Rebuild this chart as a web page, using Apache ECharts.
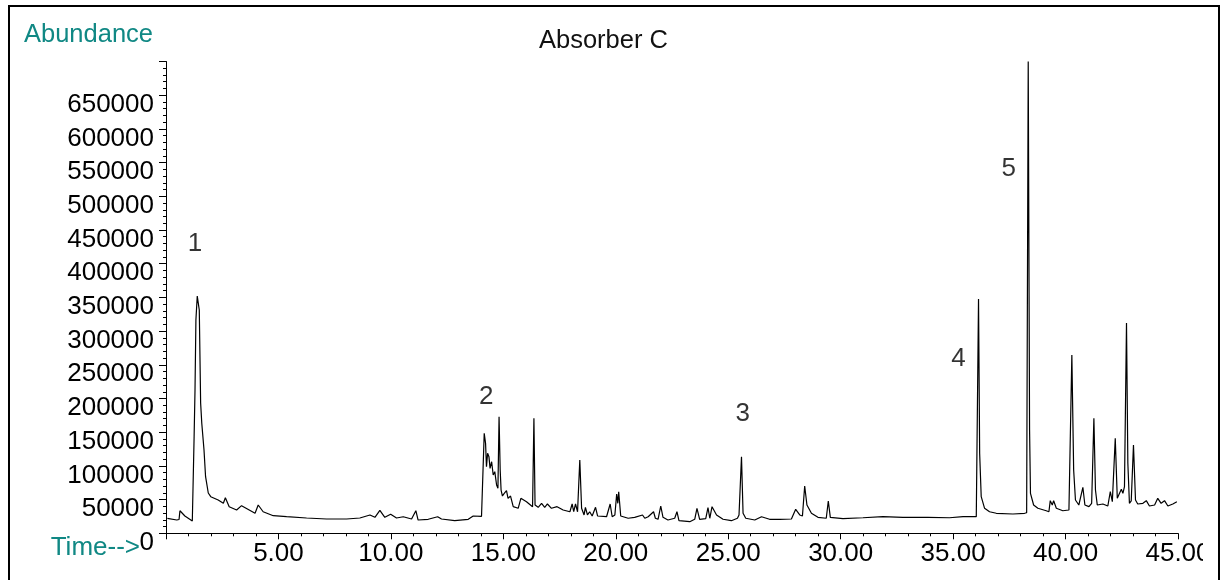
<!DOCTYPE html>
<html>
<head>
<meta charset="utf-8">
<script src="https://cdn.jsdelivr.net/npm/echarts@6/dist/echarts.min.js"></script>
<style>
html,body{margin:0;padding:0;background:#fff;}
#chart{width:1224px;height:580px;}
</style>
</head>
<body>
<div id="chart"></div>
<script>
// Retention time (min)
const times = [
  0.06, 0.48, 0.58, 0.62, 0.84, 1.17, 1.19, 1.25, 1.29, 1.33, 1.39, 1.48, 1.54, 1.59, 1.69, 1.76, 1.88, 1.99,
  2.32, 2.55, 2.64, 2.81, 3.14, 3.36, 3.96, 4.10, 4.32, 4.77, 5.36, 6.25, 6.28, 7.14, 8.03, 8.62, 9.07, 9.29,
  9.51, 9.73, 9.99, 10.25, 10.55, 10.92, 11.11, 11.21,
  11.66, 12.08, 12.25, 12.84, 13.44, 13.66, 14.03, 14.10, 14.15, 14.21, 14.25, 14.30, 14.36, 14.41, 14.48,
  14.55, 14.62, 14.70, 14.76, 14.81, 14.86, 14.90, 14.96, 15.04, 15.14, 15.21, 15.32, 15.44, 15.66, 15.78,
  16.03, 16.30, 16.36, 16.41, 16.55, 16.70, 16.84, 16.96, 17.14, 17.39, 17.66, 17.96, 18.06, 18.13, 18.21,
  18.30, 18.40, 18.48, 18.59, 18.65, 18.74, 18.84, 18.95, 19.10, 19.19, 19.59, 19.75, 19.84, 19.96, 20.04,
  20.09, 20.13, 20.22, 20.55, 20.84, 21.19, 21.29, 21.44, 21.68, 21.76, 21.88, 22.00, 22.10, 22.32,
  22.62, 22.72, 22.81, 23.29, 23.51, 23.61, 23.73, 24.00, 24.10, 24.18, 24.28, 24.48, 24.77, 25.14, 25.41,
  25.48, 25.59, 25.66, 25.78, 26.18, 26.48, 26.84, 27.29, 27.81, 28.00, 28.18, 28.30, 28.40, 28.50, 28.70,
  28.99, 29.36, 29.45, 29.54, 30.10, 30.99, 31.88, 32.77, 33.88,
  34.84, 35.44, 36.03, 36.07, 36.13, 36.18, 36.25, 36.40, 36.62, 36.92, 37.66, 38.18, 38.27, 38.34, 38.40,
  38.44, 38.58, 38.77, 39.14, 39.26, 39.32, 39.41, 39.47, 39.59, 39.88, 40.15, 40.21, 40.28, 40.36, 40.44,
  40.59, 40.77, 40.86, 41.04, 41.16, 41.26, 41.33, 41.41, 41.66, 41.88, 41.99, 42.08, 42.21, 42.30, 42.40,
  42.48, 42.55, 42.62, 42.71, 42.77, 42.84, 42.92, 43.02, 43.11, 43.21, 43.44, 43.59, 43.73, 43.96, 44.10,
  44.25, 44.40, 44.55, 44.77, 44.95
];
// Abundance
const abundance = [
  22250, 19700, 20500, 33500, 25700, 18300, 19700, 143300, 212600, 316500, 352000, 331300, 193300, 163600, 123600, 84000, 59800, 54300,
  49400, 44500, 52800, 39500, 34600, 41000, 29700, 42000, 32000, 26100, 24600, 22700, 24000, 21200, 21200, 22700, 27200, 23700,
  34100, 23700, 28200, 22700, 24600, 21200, 33500, 19700,
  20800, 24600, 21200, 18700, 20800, 25700, 25200, 27200, 148400, 133500, 98800, 118700, 113700, 96400, 106200,
  86500, 91400, 71700, 66800, 173000, 93900, 64200, 55300, 59300, 63200, 51900, 55300, 39500, 37100, 51900,
  46900, 39500, 170600, 42000, 38600, 44500, 38600, 43500, 37100, 39500, 34600, 32000, 43500, 32000, 43500,
  32000, 108800, 37100, 27200, 38600, 27200, 32000, 25700, 38600, 25700, 24600, 43500, 24600, 27200, 58300,
  44500, 61700, 25700, 22300, 23700, 27200, 22300, 24600, 32000, 22300, 20800, 40500, 23700, 19700,
  22300, 32000, 18700, 17200, 20800, 37100, 20800, 21700, 38000, 22300, 39500, 27200, 20800, 18700, 22300,
  27200, 113700, 29700, 22300, 19700, 24600, 20800, 20800, 21200, 35600, 27200, 25700, 70200, 42000, 29700,
  23700, 22300, 47900, 23700, 21700, 23100, 24600, 23700, 23700,
  23100, 24600, 24600, 25500, 347600, 118700, 54300, 37100, 32000, 29700, 28600, 29700, 30500, 700000, 153300,
  59300, 42000, 37100, 33500, 32000, 48400, 42000, 48400, 37100, 33500, 34600, 36000, 264500, 93900, 49400,
  42000, 68300, 42000, 39500, 44500, 170600, 64200, 42000, 43500, 40500, 61700, 46900, 141000, 51900, 59300,
  65300, 59300, 69100, 312000, 103900, 44500, 48000, 131000, 49400, 43500, 44500, 48400, 40500, 42000, 51900,
  44500, 48400, 40500, 43500, 46900
];
// Peak annotations
const peakLabels = ['1', '2', '3', '4', '5'];
const peakLabelTimes = [1.29, 14.24, 25.64, 35.24, 37.47];
const peakLabelValues = [429200, 202200, 177000, 259400, 541300];

const xMin = 0, xMax = 45, xInterval = 5;
const yMin = 0, yMax = 700000, yInterval = 50000;

const FONT = '"Liberation Sans", Arial, sans-serif';
const TEAL = '#108884';

const chart = echarts.init(document.getElementById('chart'), null, {renderer: 'canvas'});
const seriesData = times.map((t, i) => [t, abundance[i]]);
const labelData = peakLabels.map((n, i) => ({value: [peakLabelTimes[i], peakLabelValues[i]], name: n}));

chart.setOption({
  animation: false,
  backgroundColor: '#fff',
  title: {
    text: 'Absorber C',
    left: 534, top: 23,
    textStyle: {fontFamily: FONT, fontSize: 25.5, fontWeight: 'normal', color: '#111'}
  },
  grid: {left: 166, right: 46, top: 61.5, bottom: 46.7},
  xAxis: {
    type: 'value', min: xMin, max: xMax, interval: xInterval,
    axisLine: {show: true, lineStyle: {color: '#000', width: 1}},
    axisTick: {show: true, length: 6, lineStyle: {color: '#000', width: 1}},
    minorTick: {show: true, splitNumber: 5, length: 3, lineStyle: {color: '#000', width: 1}},
    splitLine: {show: false},
    axisLabel: {
      margin: 8, color: '#000', fontFamily: FONT, fontSize: 26,
      formatter: v => v === 0 ? '' : v.toFixed(2)
    }
  },
  yAxis: {
    type: 'value', min: yMin, max: yMax, interval: yInterval,
    axisLine: {show: true, lineStyle: {color: '#000', width: 1}},
    axisTick: {show: true, length: 7, lineStyle: {color: '#000', width: 1}},
    minorTick: {show: true, splitNumber: 5, length: 3, lineStyle: {color: '#000', width: 1}},
    splitLine: {show: false},
    axisLabel: {
      margin: 12, color: '#000', fontFamily: FONT, fontSize: 26,
      verticalAlign: 'top', lineHeight: 19,
      formatter: v => v === yMax ? '' : String(v)
    }
  },
  series: [
    {
      type: 'line', data: seriesData, showSymbol: false, symbol: 'none',
      lineStyle: {color: '#000', width: 1.2}, silent: true, z: 3
    },
    {
      type: 'scatter', data: labelData, symbolSize: 1, silent: true,
      itemStyle: {color: 'rgba(0,0,0,0)'},
      label: {show: true, position: 'inside', formatter: p => p.name,
        color: '#000', fontFamily: FONT, fontSize: 26}
    }
  ],
  graphic: [
    {type: 'rect', z: 100, shape: {x: 1203, y: 540, width: 14, height: 35}, style: {fill: '#fff'}},
    {type: 'rect', z: 101, shape: {x: 9, y: 6, width: 1210, height: 600}, style: {fill: 'none', stroke: '#000', lineWidth: 2}},
    {type: 'text', z: 101, style: {text: 'Abundance', x: 24, y: 35, verticalAlign: 'middle', fill: TEAL,
      font: '25.5px ' + FONT}},
    {type: 'text', z: 101, style: {text: 'Time-->', x: 140, y: 548, align: 'right', verticalAlign: 'middle', fill: TEAL,
      font: '26px ' + FONT}}
  ]
});
</script>
</body>
</html>
